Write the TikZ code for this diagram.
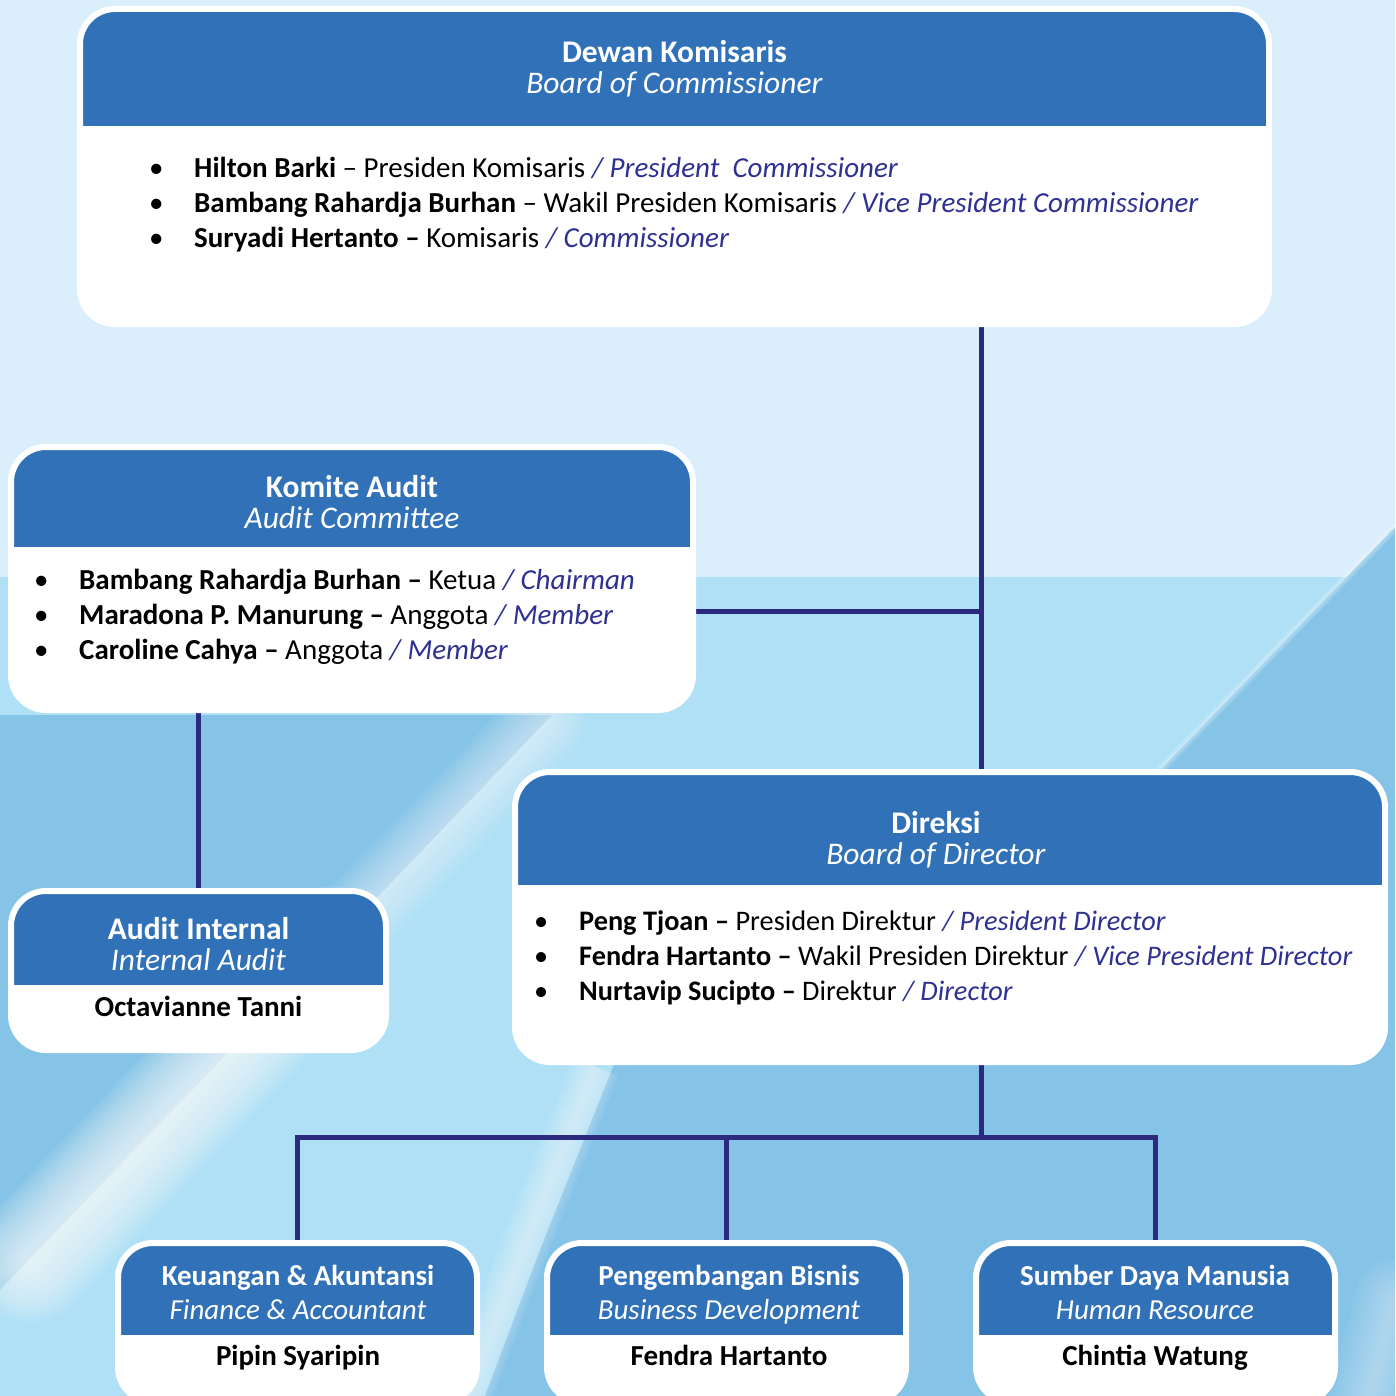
\documentclass[tikz,border=0pt]{standalone}
\usepackage{fontspec}
\setmainfont{Carlito}
\usetikzlibrary{positioning,backgrounds}
\definecolor{hdblue}{HTML}{3171B8}
\definecolor{navy}{HTML}{2B2A7E}
\definecolor{roleink}{HTML}{2E3192}
\definecolor{skytop}{HTML}{DAEFFB}
\definecolor{skylow}{HTML}{AFE0F6}
\definecolor{skydeep}{HTML}{86C4E7}
\newcommand{\enrole}[1]{{\color{roleink}\itshape #1}}
\newcommand{\bul}{\makebox[45pt][l]{\textbullet}}

\begin{document}
\begin{tikzpicture}[
  x=1pt, y=-1pt,
  font=\fontsize{29}{35}\selectfont,
  card/.style={draw=white, line width=6pt, fill=white, rounded corners=35pt,
               inner sep=0pt,
               path picture={\fill[hdblue, sharp corners]
                 (path picture bounding box.north west) rectangle
                 ([yshift=-#1]path picture bounding box.north east);}},
  title/.style={anchor=north, align=center, text=white, inner sep=0pt,
                font=\fontsize{31.5}{31}\selectfont},
  unit/.style={title, font=\fontsize{29}{34}\selectfont},
  list/.style={anchor=north west, align=left, inner sep=0pt},
  who/.style={anchor=north, inner sep=0pt, font=\fontsize{29}{35}\selectfont\bfseries},
  link/.style={draw=navy, line width=5pt},
]
  \useasboundingbox (0,0) rectangle (1395,1396);

  % --- latar ---
  \begin{scope}[on background layer]
    \fill[skytop] (0,0) rectangle (1395,1396);
    \fill[skylow] (0,577) rectangle (1395,1396);
    \fill[skydeep] (0,715) -- (552,715) -- (0,1290) -- cycle;
    \fill[skydeep] (1395,527) -- (1160,770) -- (700,900) -- (613,1067)
      -- (540,1250) -- (485,1396) -- (1395,1396) -- cycle;
    \foreach \w in {8,16,...,120}
      \draw[white, opacity=0.08, line width=\w, line cap=round] (30,1262) -- (330,946);
    \foreach \w in {8,16,...,80}
      \draw[white, opacity=0.06, line width=\w, line cap=round] (330,946) -- (545,722);
    \foreach \w in {3,6,9}
      \draw[white, opacity=0.12, line width=\w] (1395,527) -- (1160,770);
    \foreach \w in {6,12,...,48}
      \draw[white, opacity=0.07, line width=\w] (596,1067) -- (523,1250) -- (468,1396);
    \foreach \w in {10,20,...,80}
      \draw[white, opacity=0.05, line width=\w, line cap=round] (1395,1300) -- (1370,1396);
  \end{scope}

  % --- kotak ---
  \node[card=117, minimum width=1189, minimum height=315] (dekom) at (674.5,166.5) {};
  \node[card=100, minimum width=682,  minimum height=263] (kom)   at (352,578.5) {};
  \node[card=94,  minimum width=375,  minimum height=159] (ai)    at (198.5,970.5) {};
  \node[card=113, minimum width=870,  minimum height=290] (dir)   at (950,917) {};
  \node[card=92,  minimum width=359,  minimum height=159] (keu)   at (297.5,1322.5) {};
  \node[card=92,  minimum width=359,  minimum height=159] (pb)    at (726.5,1322.5) {};
  \node[card=92,  minimum width=359,  minimum height=159] (sdm)   at (1155.5,1322.5) {};

  % --- teks ---
  \node[title] (dekom-t) at (674.5,40) {\textbf{Dewan Komisaris}\\\textit{Board of Commissioner}};
  \node[list] (dekom-l) at (149,157) {%
    \bul\textbf{Hilton Barki} – Presiden Komisaris \enrole{/ President\ \ Commissioner}\\
    \bul\textbf{Bambang Rahardja Burhan} – Wakil Presiden Komisaris \enrole{/ Vice President Commissioner}\\
    \bul\textbf{Suryadi Hertanto –} Komisaris \enrole{/ Commissioner}};

  \node[title] (kom-t) at (352,475) {\textbf{Komite Audit}\\\textit{Audit Committee}};
  \node[list] (kom-l) at (34,569) {%
    \bul\textbf{Bambang Rahardja Burhan –} Ketua \enrole{/ Chairman}\\
    \bul\textbf{Maradona P. Manurung –} Anggota \enrole{/ Member}\\
    \bul\textbf{Caroline Cahya –} Anggota \enrole{/ Member}};

  \node[title] (ai-t) at (198.5,917) {\textbf{Audit Internal}\\\textit{Internal Audit}};
  \node[who]   (ai-n) at (198.5,996) {Octavianne Tanni};

  \node[title] (dir-t) at (936,811) {\textbf{Direksi}\\\textit{Board of Director}};
  \node[list, font=\fontsize{28.3}{35}\selectfont] (dir-l) at (534,910) {%
    \bul\textbf{Peng Tjoan –} Presiden Direktur \enrole{/ President Director}\\
    \bul\textbf{Fendra Hartanto –} Wakil Presiden Direktur \enrole{/ Vice President Director}\\
    \bul\textbf{Nurtavip Sucipto –} Direktur \enrole{/ Director}};

  \node[unit] (keu-t) at (298,1265) {\textbf{Keuangan \& Akuntansi}\\\textit{Finance \& Accountant}};
  \node[who]  (keu-n) at (298,1345) {Pipin Syaripin};
  \node[unit] (pb-t)  at (729,1265) {\textbf{Pengembangan Bisnis}\\\textit{Business Development}};
  \node[who]  (pb-n)  at (729,1345) {Fendra Hartanto};
  \node[unit] (sdm-t) at (1155,1265) {\textbf{Sumber Daya Manusia}\\\textit{Human Resource}};
  \node[who]  (sdm-n) at (1155,1345) {Chintia Watung};

  % --- garis ---
  \coordinate (spine) at (981,611);
  \coordinate (bus) at (981,1137);
  \begin{scope}[on background layer]
    \draw[link] (dekom.south -| spine) -- (dir.north -| spine);
    \draw[link] (kom.east |- spine) -- (spine);
    \draw[link] (ai.north) -- (ai.north |- kom.south);
    \draw[link] (dir.south -| bus) -- (bus);
    \draw[link] (keu.north) |- (bus) -| (sdm.north);
    \draw[link] (pb.north) -- (pb.north |- bus);
  \end{scope}
\end{tikzpicture}
\end{document}
